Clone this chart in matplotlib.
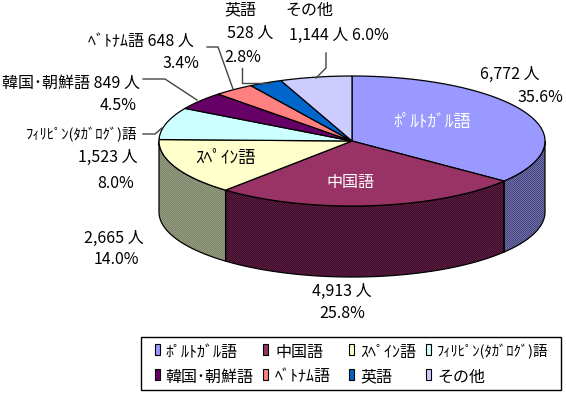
import numpy as np
import matplotlib
matplotlib.use("Agg")
import matplotlib.pyplot as plt
from matplotlib.colors import to_rgb
from matplotlib.patches import Polygon, Rectangle

plt.rcParams["font.family"] = ["Noto Sans CJK JP", "DejaVu Sans"]

# data
categories = ["ﾎﾟﾙﾄｶﾞﾙ語", "中国語", "ｽﾍﾟｲﾝ語", "ﾌｨﾘﾋﾟﾝ(ﾀｶﾞﾛｸﾞ)語", "韓国･朝鮮語", "ﾍﾞﾄﾅﾑ語", "英語", "その他"]
people = [6772, 4913, 2665, 1523, 849, 648, 528, 1144]
shares = [35.6, 25.8, 14.0, 8.0, 4.5, 3.4, 2.8, 6.0]
top_colors = ["#9999ff", "#993366", "#ffffcc", "#ccffff", "#660066", "#ff8080", "#0066cc", "#ccccff"]
# the walls are dithered, two colours in a checker
side_colors = [("#44448c", "#70709a"), ("#661a40", "#33102c"), ("#9a9a7c", "#78866e"),
               ("#668080", "#668080"), ("#330033", "#330033"), ("#804040", "#804040"),
               ("#003366", "#003366"), ("#666680", "#666680")]

# pie geometry, in pixels
W, H = 566, 393
CX, CY = 352, 141
RX, RY = 193, 65
DEPTH = 71


def rim(a0, a1, n=120):
    t = np.radians(np.linspace(a0, a1, n))
    return CX + RX * np.sin(t), CY - RY * np.cos(t)


def checker(c1, c2):
    yy, xx = np.mgrid[0:H, 0:W]
    mask = ((xx + yy) % 2 == 0)[..., None]
    return np.where(mask, to_rgb(c1), to_rgb(c2))


fig = plt.figure(figsize=(5.66, 3.93), dpi=100)
ax = fig.add_axes([0, 0, 1, 1])
ax.set_xlim(0, W)
ax.set_ylim(H, 0)
ax.axis("off")

edges = np.cumsum([0] + people) / sum(people) * 360

# side walls, only the front half of the rim shows
for i in range(len(people)):
    a0, a1 = max(edges[i], 90), min(edges[i + 1], 270)
    if a0 >= a1:
        continue
    x, y = rim(a0, a1)
    pts = np.r_[np.c_[x, y], np.c_[x[::-1], y[::-1] + DEPTH]]
    wall = Polygon(pts, fc="none", ec="black", lw=0.9, zorder=2.5)
    ax.add_patch(wall)
    im = ax.imshow(checker(*side_colors[i]), extent=(0, W, H, 0), interpolation="nearest", zorder=2)
    im.set_clip_path(wall)
ax.set_xlim(0, W)
ax.set_ylim(H, 0)
ax.set_aspect("auto")

# top face
for i in range(len(people)):
    x, y = rim(edges[i], edges[i + 1])
    pts = np.r_[[[CX, CY]], np.c_[x, y]]
    ax.add_patch(Polygon(pts, fc=top_colors[i], ec="black", lw=0.9, zorder=3))

FS = 11.5
FS_KANA = 10.5
ax.text(432, 122, categories[0], color="white", fontsize=12.5, ha="center", va="center", zorder=5)
ax.text(350, 183, categories[1], color="white", fontsize=11.5, ha="center", va="center", zorder=5)
ax.text(225, 158, categories[2], fontsize=12.5, ha="center", va="center", zorder=5)

labels = [
    (510, 74, f"{people[0]:,} 人"), (540, 98, f"{shares[0]}%"),
    (342, 291, f"{people[1]:,} 人"), (342, 313, f"{shares[1]}%"),
    (114, 238, f"{people[2]:,} 人"), (116, 260, f"{shares[2]}%"),
    (108, 157, f"{people[3]:,} 人"), (116, 183, f"{shares[3]}%"),
    (71, 83, f"{categories[4]} {people[4]:,} 人"), (118, 105, f"{shares[4]}%"),
    (141, 41, f"{categories[5]} {people[5]:,} 人"), (181, 63, f"{shares[5]}%"),
    (240, 10, categories[6]), (250, 33, f"{people[6]:,} 人"), (243, 57, f"{shares[6]}%"),
    (309, 10, categories[7]), (339, 35, f"{people[7]:,} 人 {shares[7]}%"),
]
for x, y, s in labels:
    ax.text(x, y, s, fontsize=FS, ha="center", va="center", zorder=5)
ax.text(82, 135, categories[3], fontsize=FS_KANA, ha="center", va="center", zorder=5)

# leader lines
leaders = [
    ([143, 165, 197], [79, 79, 100]),
    ([207, 218, 233], [47, 47, 89]),
    ([143, 155, 162], [134, 134, 128]),
    ([242, 242, 270], [68, 83, 83]),
    ([326, 326, 316], [53, 68, 78]),
]
for x, y in leaders:
    ax.plot(x, y, color="#444444", lw=1.0, zorder=4)

# legend
ax.add_patch(Rectangle((140.5, 336.5), 420, 53, fc="white", ec="black", lw=1, zorder=4))
swatch_x = [155, 263, 349, 426]
text_x = [165, 275, 360, 437]
row_y = [352, 377]
for i, name in enumerate(categories):
    col, row = i % 4, i // 4
    ax.add_patch(Rectangle((swatch_x[col], row_y[row] - 8), 5, 11, fc=top_colors[i], ec="black", lw=0.8, zorder=5))
    fs = FS_KANA if i == 3 else FS
    ax.text(text_x[col], row_y[row], name, fontsize=fs, ha="left", va="center", zorder=5)

fig.savefig("out.png", dpi=100, facecolor="white")
